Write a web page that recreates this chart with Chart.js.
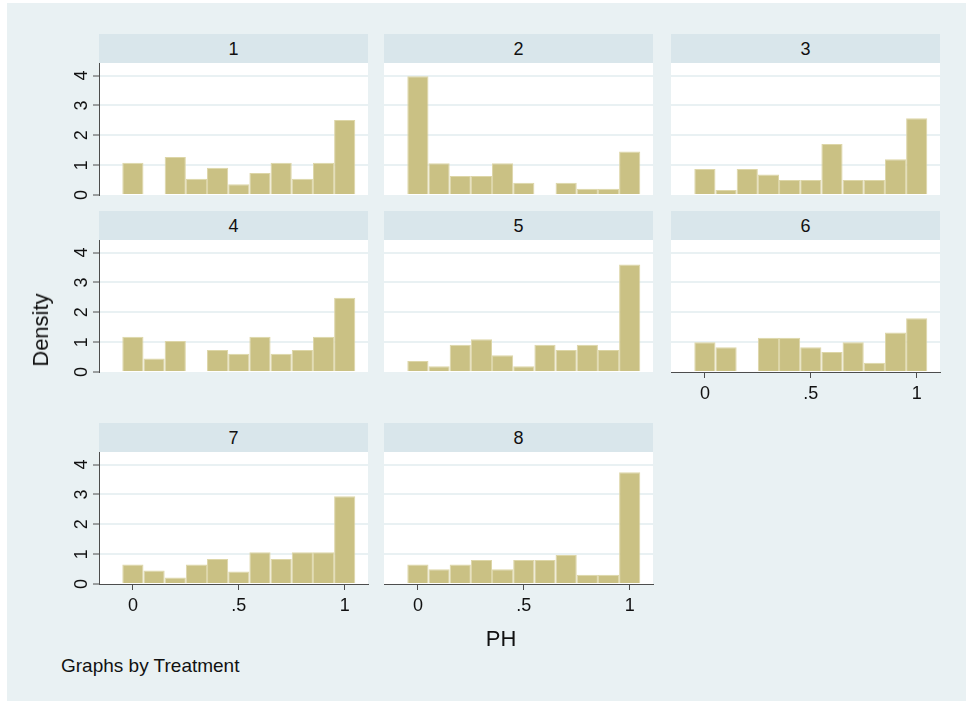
<!DOCTYPE html>
<html>
<head>
<meta charset="utf-8">
<script src="https://cdn.jsdelivr.net/npm/chart.js@4.4.1/dist/chart.umd.min.js"></script>
<style>
  body { margin: 0; width: 966px; height: 701px; background: #fff; position: relative; overflow: hidden;
         font-family: "Liberation Sans", Arial, Helvetica, sans-serif; color: #111; }
  #fondo { position: absolute; left: 7px; top: 3px; right: 0; bottom: 0; background: #e9f1f3; }
  .tira { position: absolute; height: 29px; line-height: 30px; text-align: center; font-size: 18px; background: #d9e6eb; }
  canvas { position: absolute; }
  .texto { position: absolute; white-space: nowrap; }
</style>
</head>
<body>
<div id="fondo"></div>
<div id="panel"></div>
<div class="texto" style="left: 41px; top: 330px; font-size: 22px; transform: translate(-50%, -50%) rotate(-90deg);">Density</div>
<div class="texto" style="left: 501px; top: 639px; font-size: 22px; transform: translate(-50%, -50%);">PH</div>
<div class="texto" style="left: 61px; top: 666px; font-size: 19px; transform: translateY(-50%);">Graphs by Treatment</div>

<script>
// centros de los intervalos del histograma (ancho 0.1)
const centros = [0, 0.1, 0.2, 0.3, 0.4, 0.5, 0.6, 0.7, 0.8, 0.9, 1];
const tratamientos = ["1", "2", "3", "4", "5", "6", "7", "8"];

// densidad por intervalo de cada tratamiento
const dens1 = [1.08, 0, 1.27, 0.54, 0.91, 0.36, 0.74, 1.08, 0.54, 1.08, 2.51];
const dens2 = [3.98, 1.06, 0.64, 0.64, 1.06, 0.41, 0, 0.41, 0.21, 0.21, 1.46];
const dens3 = [0.87, 0.17, 0.87, 0.69, 0.5, 0.5, 1.71, 0.5, 0.5, 1.2, 2.57];
const dens4 = [1.18, 0.45, 1.04, 0, 0.74, 0.61, 1.18, 0.61, 0.74, 1.18, 2.49];
const dens5 = [0.37, 0.19, 0.91, 1.1, 0.56, 0.19, 0.91, 0.74, 0.91, 0.74, 3.6];
const dens6 = [1.0, 0.83, 0, 1.15, 1.15, 0.83, 0.67, 1.0, 0.31, 1.32, 1.8];
const dens7 = [0.65, 0.45, 0.22, 0.65, 0.84, 0.42, 1.06, 0.84, 1.06, 1.06, 2.94];
const dens8 = [0.65, 0.49, 0.65, 0.8, 0.49, 0.8, 0.8, 0.97, 0.31, 0.31, 3.74];
const densidades = [dens1, dens2, dens3, dens4, dens5, dens6, dens7, dens8];

const ticksY = [0, 1, 2, 3, 4];
const etiquetasY = ["0", "1", "2", "3", "4"];
const ticksX = [0, 0.5, 1];
const etiquetasX = ["0", ".5", "1"];

Chart.defaults.font.family = '"Liberation Sans", Arial, Helvetica, sans-serif';
Chart.defaults.color = "#111";

const colorEje = "#4d4d4d";
const colorRejilla = "#e9f1f3";

// posición de cada área de gráfico
const izquierdas = [99, 384, 671];
const arribas = [63, 240, 452];
const anchoArea = 269;
const altoArea = 132;
const margenIzq = 50, margenSup = 25, margenDer = 10, margenInf = 40;

// fondo blanco del área de datos
const fondoArea = {
  id: "fondoArea",
  beforeDraw(chart) {
    const a = chart.chartArea;
    const ctx = chart.ctx;
    ctx.save();
    ctx.fillStyle = "#fff";
    ctx.fillRect(a.left, a.top, a.right - a.left, a.bottom - a.top);
    ctx.restore();
  }
};

const contenedor = document.getElementById("panel");

tratamientos.forEach((t, i) => {
  const fila = Math.floor(i / 3);
  const col = i % 3;
  const conY = col === 0;
  const conX = i >= 5;

  const tira = document.createElement("div");
  tira.className = "tira";
  tira.style.left = izquierdas[col] + "px";
  tira.style.top = (arribas[fila] - 29) + "px";
  tira.style.width = anchoArea + "px";
  tira.textContent = t;
  contenedor.appendChild(tira);

  const canvas = document.createElement("canvas");
  canvas.width = margenIzq + anchoArea + margenDer;
  canvas.height = margenSup + altoArea + margenInf;
  canvas.style.left = (izquierdas[col] - margenIzq) + "px";
  canvas.style.top = (arribas[fila] - margenSup) + "px";
  contenedor.appendChild(canvas);

  new Chart(canvas, {
    type: "bar",
    data: {
      datasets: [{
        data: centros.map((x, k) => ({ x: x, y: densidades[i][k] })),
        backgroundColor: "#cac184",
        borderColor: "#ddd6a8",
        borderWidth: 1,
        barPercentage: 1,
        categoryPercentage: 1,
        inflateAmount: 0
      }]
    },
    options: {
      responsive: false,
      animation: false,
      layout: {
        padding: { top: margenSup, right: margenDer, left: conY ? 0 : margenIzq, bottom: conX ? 0 : margenInf }
      },
      plugins: { legend: { display: false }, tooltip: { enabled: false } },
      scales: {
        x: {
          type: "linear",
          min: -0.16,
          max: 1.11,
          offset: false,
          display: conX,
          afterBuildTicks: s => { s.ticks = ticksX.map(v => ({ value: v })); },
          afterFit: s => { s.height = conX ? margenInf : 0; },
          ticks: {
            autoSkip: false,
            maxRotation: 0,
            padding: 5,
            font: { size: 18 },
            callback: (v, idx) => etiquetasX[idx]
          },
          grid: { offset: false, drawOnChartArea: false, color: colorEje, tickLength: 6, lineWidth: 1 },
          border: { color: colorEje, width: 1 }
        },
        y: {
          min: 0,
          max: 4.42,
          afterBuildTicks: s => { s.ticks = ticksY.map(v => ({ value: v })); },
          afterFit: s => { s.width = conY ? margenIzq : 0; },
          ticks: {
            display: conY,
            minRotation: 90,
            maxRotation: 90,
            crossAlign: "center",
            padding: 6,
            font: { size: 18 },
            callback: (v, idx) => etiquetasY[idx]
          },
          grid: {
            color: c => (c.tick && c.tick.value === 0 ? "rgba(0,0,0,0)" : colorRejilla),
            lineWidth: 2,
            drawTicks: conY,
            tickColor: colorEje,
            tickLength: 6,
            tickWidth: 1
          },
          border: { display: conY, color: colorEje, width: 1 }
        }
      }
    },
    plugins: [fondoArea]
  });
});
</script>
</body>
</html>
